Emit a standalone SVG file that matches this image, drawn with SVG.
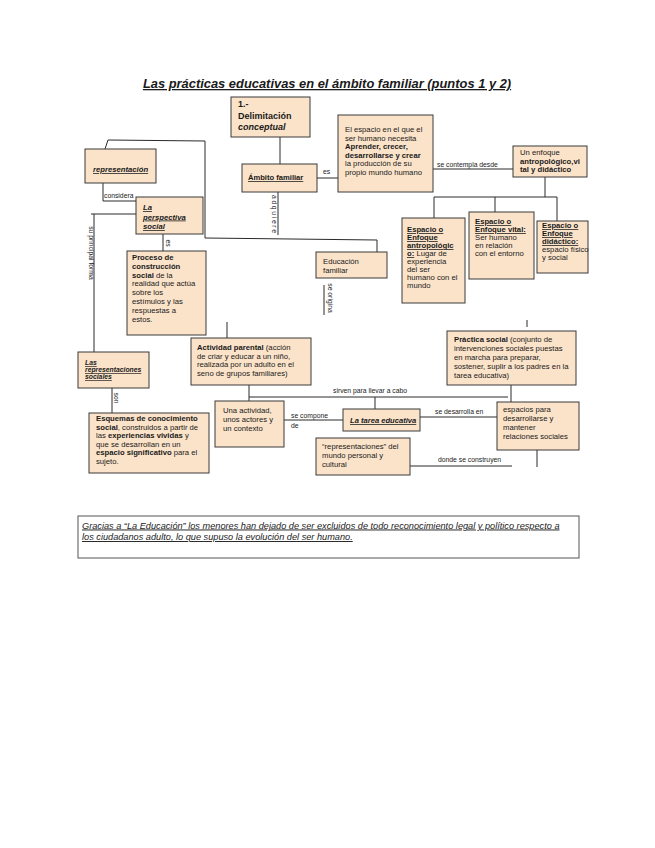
<svg xmlns="http://www.w3.org/2000/svg" width="655" height="848" viewBox="0 0 655 848">
<style>
text { font-family: "Liberation Sans", Arial, sans-serif; fill: #1a1a1a; }
.box { fill: #FBE3C9; stroke: #3a3a3a; stroke-width: 1; }
.t { font-size: 7.7px; }
.b { font-weight: bold; }
.u { text-decoration: underline; }
.i { font-style: italic; }
.lbl { font-size: 6.8px; fill: #222; }
.con path { fill: none; stroke: #2a2a2a; stroke-width: 1; }
</style>
<rect width="655" height="848" fill="#ffffff"/>
<text id="title" x="327" y="88" text-anchor="middle" font-size="12.9" font-weight="bold" font-style="italic" text-decoration="underline">Las prácticas educativas en el ámbito familiar (puntos 1 y 2)</text>

<g class="con" id="connectors">
  <path d="M280,137 V164"/>
  <path d="M317,178 H338"/>
  <path d="M433,169 H513"/>
  <path d="M545,177 V197 M434,197 H557 M434,197 V218 M495,197 V212 M557,197 V221"/>
  <path d="M278,192 V235"/>
  <path d="M105,149 L108,140 L205,141 V238 L377,240 V252"/>
  <path d="M103,183 V201 H136"/>
  <path d="M136,214 H91 M94,214 V352"/>
  <path d="M163,234 V251"/>
  <path d="M227,322 V338"/>
  <path d="M324,285 V315"/>
  <path d="M527,320 V327"/>
  <path d="M249,385 V401 M249,397 H508 M375,397 V409"/>
  <path d="M511,385 V402"/>
  <path d="M284,420 H343"/>
  <path d="M420,417 H497"/>
  <path d="M410,466 H512"/>
  <path d="M537,450 V467"/>
  <path d="M112,388 V413"/>
  <text class="lbl" x="323" y="174" font-size="5.8">es</text>
  <text class="lbl" x="437" y="167" font-size="7.6">se contempla desde</text>
  <text class="lbl" transform="translate(271.5,214) rotate(90)" text-anchor="middle" font-size="7" textLength="38" lengthAdjust="spacing">adquiere</text>
  <text class="lbl" x="104" y="198">considera</text>
  <text class="lbl" transform="translate(89,253) rotate(90)" text-anchor="middle" font-size="6.5">su principal forma</text>
  <text class="lbl" transform="translate(166,243) rotate(90)" text-anchor="middle">es</text>
  <text class="lbl" transform="translate(327.5,298) rotate(90)" text-anchor="middle" font-size="6.5">se origina</text>
  <text class="lbl" x="333" y="393" font-size="8.3">sirven para llevar a cabo</text>
  <text class="lbl" x="291" y="418">se compone</text>
  <text class="lbl" x="291" y="428">de</text>
  <text class="lbl" x="435" y="414" font-size="7">se desarrolla en</text>
  <text class="lbl" x="438" y="462">donde se construyen</text>
  <text class="lbl" transform="translate(114,398) rotate(90)" text-anchor="middle">son</text>
</g>

<g id="n-delimitacion">
  <rect class="box" x="231" y="97" width="79" height="40"/>
  <text x="238" y="107" font-size="9" class="b">1.-</text>
  <text x="238" y="118.5" font-size="9" class="b">Delimitación</text>
  <text x="238" y="130" font-size="9" class="b i">conceptual</text>
</g>
<g id="n-representacion">
  <rect class="box" x="85" y="149" width="71" height="34"/>
  <text x="93" y="172" font-size="7.7" class="b i u">representación</text>
</g>
<g id="n-ambito">
  <rect class="box" x="242" y="164" width="75" height="28"/>
  <text x="248" y="180" font-size="7.6" class="b u">Ámbito familiar</text>
</g>
<g id="n-perspectiva">
  <rect class="box" x="136" y="197" width="67" height="37"/>
  <text x="143" y="210" font-size="7.7" class="b i u">La</text>
  <text x="143" y="219.5" font-size="7.7" class="b i u">perspectiva</text>
  <text x="143" y="229" font-size="7.7" class="b i u">social</text>
</g>
<g id="n-espacio">
  <rect class="box" x="338" y="115" width="95" height="77"/>
  <text class="t" x="345" y="132">El espacio en el que el</text>
  <text class="t" x="345" y="140.5">ser humano necesita</text>
  <text class="t b" x="345" y="149">Aprender, crecer,</text>
  <text class="t b" x="345" y="157.5">desarrollarse y crear</text>
  <text class="t" x="345" y="166">la producción de su</text>
  <text class="t" x="345" y="174.5">propio mundo humano</text>
</g>
<g id="n-enfoque">
  <rect class="box" x="513" y="146" width="74" height="31"/>
  <text class="t" x="520" y="155" font-size="8">Un enfoque</text>
  <text class="t b" x="520" y="163.5" font-size="8">antropológico,vi</text>
  <text class="t b" x="520" y="172" font-size="8">tal y didáctico</text>
</g>
<g id="n-antropologico">
  <rect class="box" x="402" y="218" width="63" height="85"/>
  <text class="t b u" x="407" y="232" font-size="7.1">Espacio o</text>
  <text class="t b u" x="407" y="240" font-size="7.1">Enfoque</text>
  <text class="t b u" x="407" y="248" font-size="7.1">antropológic</text>
  <text class="t" x="407" y="256" font-size="7.1"><tspan class="b u">o:</tspan> Lugar de</text>
  <text class="t" x="407" y="264" font-size="7.1">experiencia</text>
  <text class="t" x="407" y="272" font-size="7.1">del ser</text>
  <text class="t" x="407" y="280" font-size="7.1">humano con el</text>
  <text class="t" x="407" y="288" font-size="7.1">mundo</text>
</g>
<g id="n-vital">
  <rect class="box" x="469" y="212" width="65" height="67"/>
  <text class="t b u" x="475" y="224" font-size="7">Espacio o</text>
  <text class="t b u" x="475" y="232" font-size="7">Enfoque vital:</text>
  <text class="t" x="475" y="240" font-size="7">Ser humano</text>
  <text class="t" x="475" y="248" font-size="7">en relación</text>
  <text class="t" x="475" y="256" font-size="7">con el entorno</text>
</g>
<g id="n-didactico">
  <rect class="box" x="537" y="221" width="51" height="52"/>
  <text class="t b u" x="542" y="228" font-size="7">Espacio o</text>
  <text class="t b u" x="542" y="236" font-size="7">Enfoque</text>
  <text class="t b u" x="542" y="244" font-size="7">didáctico:</text>
  <text class="t" x="542" y="252" font-size="6.3">espacio físico</text>
  <text class="t" x="542" y="260" font-size="7">y social</text>
</g>
<g id="n-proceso">
  <rect class="box" x="127" y="251" width="79" height="84"/>
  <text class="t b" x="132" y="260" font-size="7.3">Proceso de</text>
  <text class="t b" x="132" y="268.8" font-size="7.3">construcción</text>
  <text class="t" x="132" y="277.6" font-size="7.3"><tspan class="b">social</tspan> de la</text>
  <text class="t" x="132" y="286.4" font-size="7.3">realidad que actúa</text>
  <text class="t" x="132" y="295.2" font-size="7.3">sobre los</text>
  <text class="t" x="132" y="304" font-size="7.3">estímulos y las</text>
  <text class="t" x="132" y="312.8" font-size="7.3">respuestas a</text>
  <text class="t" x="132" y="321.6" font-size="7.3">estos.</text>
</g>
<g id="n-educacion">
  <rect class="box" x="316" y="252" width="71" height="26"/>
  <text class="t" x="323" y="264" font-size="7.8">Educación</text>
  <text class="t" x="323" y="273" font-size="7.8">familiar</text>
</g>
<g id="n-actividad">
  <rect class="box" x="191" y="338" width="120" height="47"/>
  <text class="t" x="197" y="350" font-size="7.8"><tspan class="b">Actividad parental</tspan> (acción</text>
  <text class="t" x="197" y="358.5" font-size="7.8">de criar y educar a un niño,</text>
  <text class="t" x="197" y="367" font-size="7.6">realizada por un adulto en el</text>
  <text class="t" x="197" y="375.5" font-size="7.6">seno de grupos familiares)</text>
</g>
<g id="n-representaciones">
  <rect class="box" x="78" y="352" width="71" height="36"/>
  <text x="85" y="365" font-size="6.8" class="b i u">Las</text>
  <text x="85" y="372" font-size="6.8" class="b i u">representaciones</text>
  <text x="85" y="379" font-size="6.8" class="b i u">sociales</text>
</g>
<g id="n-esquemas">
  <rect class="box" x="89" y="413" width="120" height="60"/>
  <text class="t b" x="96" y="421" font-size="8">Esquemas de conocimiento</text>
  <text class="t" x="96" y="429.6" font-size="8"><tspan class="b">social</tspan>, construidos a partir de</text>
  <text class="t" x="96" y="438.2" font-size="8">las <tspan class="b">experiencias vividas</tspan> y</text>
  <text class="t" x="96" y="446.8" font-size="8">que se desarrollan en un</text>
  <text class="t" x="96" y="455.4" font-size="8"><tspan class="b">espacio significativo</tspan> para el</text>
  <text class="t" x="96" y="464" font-size="8">sujeto.</text>
</g>
<g id="n-unaactividad">
  <rect class="box" x="215" y="401" width="69" height="46"/>
  <text class="t" x="223" y="413">Una actividad,</text>
  <text class="t" x="223" y="422">unos actores y</text>
  <text class="t" x="223" y="431">un contexto</text>
</g>
<g id="n-tarea">
  <rect class="box" x="343" y="409" width="77" height="22"/>
  <text x="350" y="423" font-size="7.6" class="b i u">La tarea educativa</text>
</g>
<g id="n-mundo">
  <rect class="box" x="316" y="438" width="94" height="37"/>
  <text class="t" x="322" y="449">“representaciones” del</text>
  <text class="t" x="322" y="458">mundo personal y</text>
  <text class="t" x="322" y="467">cultural</text>
</g>
<g id="n-practica">
  <rect class="box" x="447" y="331" width="129" height="54"/>
  <text class="t" x="454" y="342" font-size="7.8"><tspan class="b">Práctica social</tspan> (conjunto de</text>
  <text class="t" x="454" y="351" font-size="7.8">intervenciones sociales puestas</text>
  <text class="t" x="454" y="359.5" font-size="7.8">en marcha para preparar,</text>
  <text class="t" x="454" y="368.5" font-size="7.4">sostener, suplir a los padres en la</text>
  <text class="t" x="454" y="377.5" font-size="7.8">tarea educativa)</text>
</g>
<g id="n-espacios">
  <rect class="box" x="497" y="402" width="82" height="48"/>
  <text class="t" x="503" y="412" font-size="7.8">espacios para</text>
  <text class="t" x="503" y="421" font-size="7.8">desarrollarse y</text>
  <text class="t" x="503" y="430" font-size="7.8">mantener</text>
  <text class="t" x="503" y="439" font-size="7.8">relaciones sociales</text>
</g>
<g id="n-nota">
  <rect x="78" y="516" width="501" height="42" fill="#ffffff" stroke="#555" stroke-width="1"/>
  <text x="82" y="528.5" font-size="9.2" class="i u">Gracias a “La Educación” los menores han dejado de ser excluidos de todo reconocimiento legal y político respecto a</text>
  <text x="82" y="540" font-size="9.2" class="i u">los ciudadanos adulto, lo que supuso la evolución del ser humano.</text>
</g>
</svg>
